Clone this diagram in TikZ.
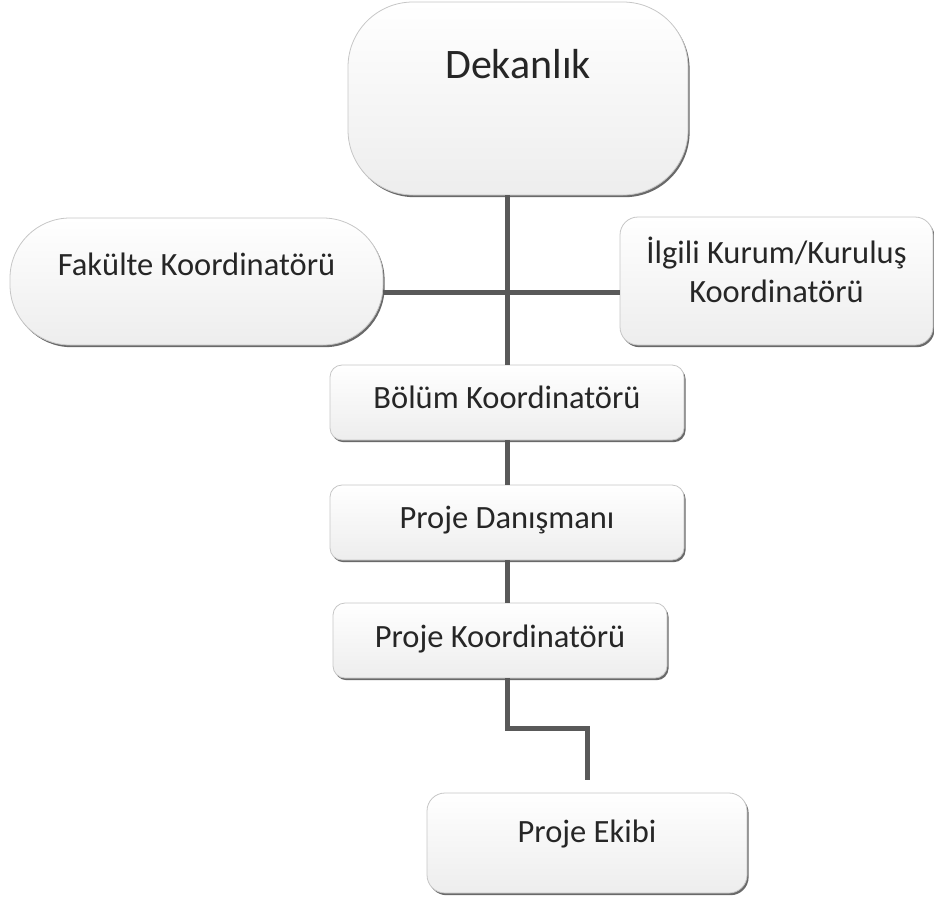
\documentclass[tikz,border=0pt]{standalone}
\usepackage{fontspec}
\setmainfont{Carlito}
\usetikzlibrary{shadows,calc}
\begin{document}
\begin{tikzpicture}[x=1pt,y=-1pt,
  box/.style={draw=gray!45, line width=0.8pt, top color=white, bottom color=gray!14,
    drop shadow={shadow xshift=1.6pt, shadow yshift=-2.2pt, fill=black!65, opacity=0.9},
    text=black!85, inner sep=0pt, font=\fontsize{32.5}{39}\selectfont},
  link/.style={draw=black!65, line width=5pt}]
\useasboundingbox (0,0) rectangle (934,897);
\coordinate (hy) at (507,292);
% boxes
\node[box, minimum width=340pt, minimum height=193pt, rounded corners=65pt,
  text height=76pt, text depth=117pt, font=\fontsize{42}{48}\selectfont] (dek) at (518,98.5) {Dekanlık};
\node[box, minimum width=373pt, minimum height=127pt, rounded corners=60pt,
  text height=57pt, text depth=70pt] (fak) at (196.5,281.5) {Fakülte Koordinatörü};
\node[box, minimum width=313pt, minimum height=128pt, rounded corners=18pt] (ilg) at (776.5,281)
  {\raisebox{0pt}[46pt][82pt]{\setlength{\tabcolsep}{0pt}\begin{tabular}[t]{c}İlgili Kurum/Kuruluş\\Koordinatörü\end{tabular}}};
\node[box, minimum width=354pt, minimum height=75pt, rounded corners=12pt,
  text height=43pt, text depth=32pt] (bol) at (507,402.5) {Bölüm Koordinatörü};
\node[box, minimum width=354pt, minimum height=75pt, rounded corners=12pt,
  text height=43pt, text depth=32pt] (dan) at (507,522.5) {Proje Danışmanı};
\node[box, minimum width=334pt, minimum height=75pt, rounded corners=12pt,
  text height=44pt, text depth=31pt] (pk) at (500,640.5) {Proje Koordinatörü};
\node[box, minimum width=320pt, minimum height=100pt, rounded corners=18pt,
  text height=49pt, text depth=51pt] (ek) at (587,843) {Proje Ekibi};
\coordinate (ekend) at ($(ek.north)+(0,-13)$);
% connectors
\draw[link] (bol.north |- dek.south) -- (bol.north);
\draw[link] (fak.east |- hy) -- (ilg.west |- hy);
\draw[link] (bol.south) -- (dan.north);
\draw[link] (dan.south) -- (dan.south |- pk.north);
\draw[link] (pk.south -| dan.south) -- ++(0,50) -| (ekend);
\end{tikzpicture}
\end{document}
